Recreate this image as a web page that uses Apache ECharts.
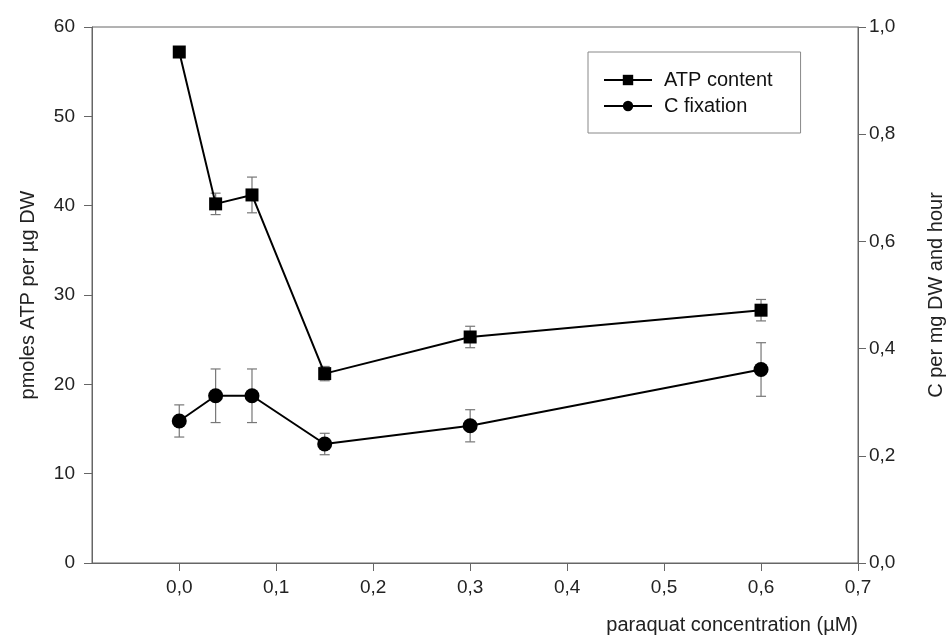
<!DOCTYPE html>
<html>
<head>
<meta charset="utf-8">
<script src="https://cdn.jsdelivr.net/npm/echarts@6/dist/echarts.min.js"></script>
<style>
  html, body { margin: 0; padding: 0; background: #fff; }
  #chart { width: 946px; height: 637px; }
</style>
</head>
<body>
<div id="chart"></div>
<script>
// paraquat concentration (µM)
var concentrations = [0, 0.0375, 0.075, 0.15, 0.3, 0.6];
// ATP content, pmoles ATP per µg DW
var atpMean = [57.2, 40.2, 41.2, 21.2, 25.3, 28.3];
var atpErr = [0, 1.2, 2.0, 0.8, 1.2, 1.2];
// C fixation, C per mg DW and hour
var cfixMean = [0.265, 0.312, 0.312, 0.222, 0.256, 0.361];
var cfixErr = [0.03, 0.05, 0.05, 0.02, 0.03, 0.05];
// tick labels
var xTicks = [0, 0.1, 0.2, 0.3, 0.4, 0.5, 0.6, 0.7];

var FONT = "Liberation Sans, Arial, sans-serif";
var AXIS_COLOR = "#666";
var TEXT_COLOR = "#222";

function comma(v, digits) {
  return Number(v).toFixed(digits).replace(".", ",");
}

function pairs(means) {
  return means.map(function (m, i) { return [concentrations[i], m]; });
}

function errRows(means, errs) {
  var rows = [];
  means.forEach(function (m, i) {
    if (errs[i] > 0) rows.push([concentrations[i], m - errs[i], m + errs[i]]);
  });
  return rows;
}

// vertical error bar with caps
function renderErr(params, api) {
  var x = api.value(0);
  var lo = api.coord([x, api.value(1)]);
  var hi = api.coord([x, api.value(2)]);
  var cap = 5;
  var style = { stroke: "#777", lineWidth: 1.2 };
  return {
    type: "group",
    children: [
      { type: "line", shape: { x1: hi[0], y1: hi[1], x2: lo[0], y2: lo[1] }, style: style },
      { type: "line", shape: { x1: hi[0] - cap, y1: hi[1], x2: hi[0] + cap, y2: hi[1] }, style: style },
      { type: "line", shape: { x1: lo[0] - cap, y1: lo[1], x2: lo[0] + cap, y2: lo[1] }, style: style }
    ]
  };
}

var chart = echarts.init(document.getElementById("chart"));

var option = {
  animation: false,
  textStyle: { fontFamily: FONT },
  grid: {
    left: 92,
    right: 88,
    top: 27,
    bottom: 74,
    outerBoundsMode: "none",
    containLabel: false,
    show: true,
    borderColor: AXIS_COLOR,
    borderWidth: 1
  },
  legend: {
    data: ["ATP content", "C fixation"],
    orient: "vertical",
    left: 588,
    top: 52,
    padding: [18, 28, 17, 15],
    itemGap: 6,
    itemWidth: 48,
    itemHeight: 13,
    borderColor: "#888",
    borderWidth: 1,
    textStyle: { fontSize: 20, color: "#111", fontFamily: FONT, padding: [0, 0, 0, 7] }
  },
  xAxis: {
    type: "value",
    min: -0.09,
    max: 0.7,
    splitLine: { show: false },
    axisLine: { onZero: false, lineStyle: { color: AXIS_COLOR } },
    axisTick: {
      show: true,
      length: 8,
      customValues: xTicks,
      lineStyle: { color: AXIS_COLOR }
    },
    axisLabel: {
      customValues: xTicks,
      margin: 15,
      fontSize: 19,
      color: TEXT_COLOR,
      formatter: function (v) { return comma(v, 1); }
    },
    name: "paraquat concentration (µM)",
    nameLocation: "end",
    nameGap: 0,
    nameTextStyle: {
      fontSize: 20,
      color: TEXT_COLOR,
      align: "right",
      verticalAlign: "top",
      padding: [52, 0, 0, 0]
    }
  },
  yAxis: [
    {
      type: "value",
      min: 0,
      max: 60,
      interval: 10,
      position: "left",
      splitLine: { show: false },
      axisLine: { show: true, onZero: false, lineStyle: { color: AXIS_COLOR } },
      axisTick: { show: true, length: 8, lineStyle: { color: AXIS_COLOR } },
      axisLabel: { margin: 17, fontSize: 19, color: TEXT_COLOR },
      name: "pmoles ATP per µg DW",
      nameLocation: "middle",
      nameRotate: 90,
      nameGap: 54,
      nameTextStyle: { fontSize: 20, color: TEXT_COLOR }
    },
    {
      type: "value",
      min: 0,
      max: 1,
      interval: 0.2,
      position: "right",
      splitLine: { show: false },
      axisLine: { show: true, onZero: false, lineStyle: { color: AXIS_COLOR } },
      axisTick: { show: true, length: 8, lineStyle: { color: AXIS_COLOR } },
      axisLabel: {
        margin: 11,
        fontSize: 19,
        color: TEXT_COLOR,
        formatter: function (v) { return comma(v, 1); }
      },
      name: "C per mg DW and hour",
      nameLocation: "middle",
      nameRotate: 90,
      nameGap: 68,
      nameTextStyle: { fontSize: 20, color: TEXT_COLOR }
    }
  ],
  series: [
    {
      type: "custom",
      name: "ATP error",
      yAxisIndex: 0,
      renderItem: renderErr,
      encode: { x: 0, y: [1, 2] },
      data: errRows(atpMean, atpErr),
      z: 1
    },
    {
      type: "custom",
      name: "C error",
      yAxisIndex: 1,
      renderItem: renderErr,
      encode: { x: 0, y: [1, 2] },
      data: errRows(cfixMean, cfixErr),
      z: 1
    },
    {
      type: "line",
      name: "ATP content",
      yAxisIndex: 0,
      data: pairs(atpMean),
      symbol: "rect",
      symbolSize: 13,
      lineStyle: { color: "#000", width: 2 },
      itemStyle: { color: "#000" },
      z: 3
    },
    {
      type: "line",
      name: "C fixation",
      yAxisIndex: 1,
      data: pairs(cfixMean),
      symbol: "circle",
      symbolSize: 15,
      lineStyle: { color: "#000", width: 2 },
      itemStyle: { color: "#000" },
      z: 3
    }
  ]
};

chart.setOption(option);
</script>
</body>
</html>
